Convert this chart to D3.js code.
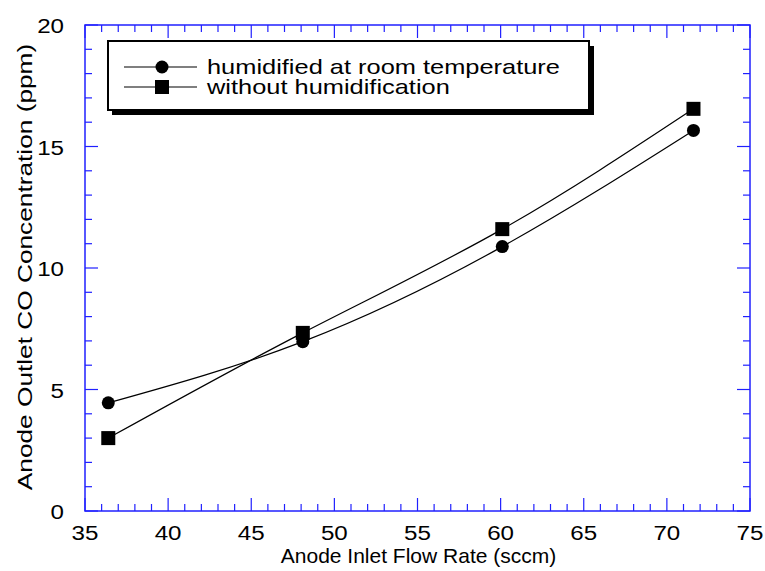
<!DOCTYPE html>
<html><head><meta charset="utf-8">
<script src="https://cdn.jsdelivr.net/npm/d3@7"></script>
<style>body{margin:0;background:#fff}text{font-family:Arial,"Liberation Sans",sans-serif;fill:#000}</style>
</head><body>
<script>
const flowRate = [36.4, 48.1, 60.1, 71.6];
const humidified = [4.45, 6.97, 10.88, 15.66];
const noHumid = [3.0, 7.33, 11.6, 16.55];
const seriesNames = ["humidified at room temperature", "without humidification"];
const xTicks = [35, 40, 45, 50, 55, 60, 65, 70, 75];
const yTicks = [0, 5, 10, 15, 20];

const W = 765, H = 571;
const m = {l: 85, r: 15, t: 25, b: 60};
const svg = d3.select("body").append("svg").attr("width", W).attr("height", H);
const x = d3.scaleLinear().domain([35, 75]).range([m.l, W - m.r]);
const y = d3.scaleLinear().domain([0, 20]).range([H - m.b, m.t]);
const blue = "#2020ff";
const fs = 21;

// frame
const g = svg.append("g");
const x0 = x(35), x1 = x(75), y0 = y(0), y1 = y(20);
g.append("rect").attr("x", x0).attr("y", y1).attr("width", x1 - x0).attr("height", y0 - y1)
  .attr("fill", "none").attr("stroke", blue).attr("stroke-width", 1.5);

const xMinor = d3.range(35, 75.01, 1);
const yMinor = d3.range(0, 20.01, 1);
xMinor.forEach(v => {
  const major = v % 5 === 0;
  const L = major ? 13 : 7;
  g.append("line").attr("x1", x(v)).attr("x2", x(v)).attr("y1", y0).attr("y2", y0 - L).attr("stroke", blue).attr("stroke-width", 1.2);
  g.append("line").attr("x1", x(v)).attr("x2", x(v)).attr("y1", y1).attr("y2", y1 + L).attr("stroke", blue).attr("stroke-width", 1.2);
});
yMinor.forEach(v => {
  const major = v % 5 === 0;
  const L = major ? 13 : 7;
  g.append("line").attr("y1", y(v)).attr("y2", y(v)).attr("x1", x0).attr("x2", x0 + L).attr("stroke", blue).attr("stroke-width", 1.2);
  g.append("line").attr("y1", y(v)).attr("y2", y(v)).attr("x1", x1).attr("x2", x1 - L).attr("stroke", blue).attr("stroke-width", 1.2);
});

// tick labels (slightly wide glyphs as in the reference)
svg.selectAll(".xl").data(xTicks).join("text")
  .attr("transform", d => `translate(${x(d)},${y0 + 29}) scale(1.15,1)`)
  .attr("text-anchor", "middle").attr("font-size", fs).text(d => d);
svg.selectAll(".yl").data(yTicks).join("text")
  .attr("transform", d => `translate(${x0 - 21},${y(d) + 8}) scale(1.15,1)`)
  .attr("text-anchor", "end").attr("font-size", fs).text(d => d);

// axis titles
svg.append("text").attr("transform", `translate(${(x0 + x1) / 2 + 1},563)`).attr("text-anchor", "middle")
  .attr("font-size", fs).text("Anode Inlet Flow Rate (sccm)");
svg.append("text").attr("transform", `translate(32,267) rotate(-90) scale(1.25,1)`).attr("text-anchor", "middle")
  .attr("font-size", fs).text("Anode Outlet CO Concentration (ppm)");

// lines
const line = d3.line().x(d => x(d[0])).y(d => y(d[1])).curve(d3.curveNatural);
const s1 = flowRate.map((v, i) => [v, humidified[i]]);
const s2 = flowRate.map((v, i) => [v, noHumid[i]]);
svg.append("path").attr("d", line(s1)).attr("fill", "none").attr("stroke", "#000").attr("stroke-width", 1.2);
svg.append("path").attr("d", line(s2)).attr("fill", "none").attr("stroke", "#000").attr("stroke-width", 1.2);
svg.selectAll(".c").data(s1).join("circle").attr("cx", d => x(d[0])).attr("cy", d => y(d[1])).attr("r", 6.5).attr("fill", "#000");
svg.selectAll(".s").data(s2).join("rect").attr("x", d => x(d[0]) - 7).attr("y", d => y(d[1]) - 7)
  .attr("width", 14).attr("height", 14).attr("fill", "#000");

// legend
const lg = svg.append("g");
lg.append("rect").attr("x", 112).attr("y", 46).attr("width", 482).attr("height", 69).attr("fill", "#000");
lg.append("rect").attr("x", 108).attr("y", 41).attr("width", 481).attr("height", 69).attr("fill", "#fff").attr("stroke", "#000").attr("stroke-width", 2);
[67, 87].forEach((ly, i) => {
  lg.append("line").attr("x1", 124).attr("x2", 197).attr("y1", ly).attr("y2", ly).attr("stroke", "#000").attr("stroke-width", 1.2);
  if (i === 0) lg.append("circle").attr("cx", 162).attr("cy", ly).attr("r", 6.5).attr("fill", "#000");
  else lg.append("rect").attr("x", 155).attr("y", ly - 7).attr("width", 14).attr("height", 14).attr("fill", "#000");
  lg.append("text").attr("transform", `translate(207,${ly + 7}) scale(1.21,1)`).attr("font-size", fs).text(seriesNames[i]);
});
</script>
</body></html>
